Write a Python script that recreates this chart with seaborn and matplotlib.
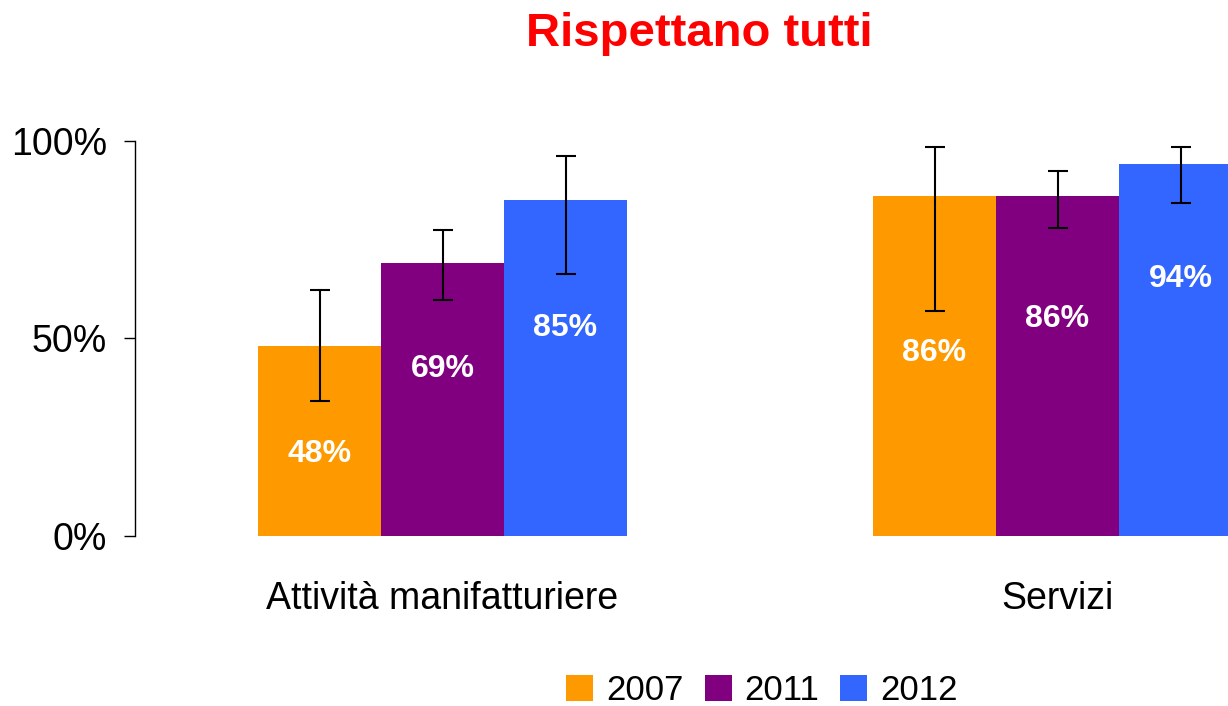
import matplotlib
matplotlib.use("Agg")
import matplotlib.pyplot as plt
import seaborn as sns
import pandas as pd

# Data
settori = ["Attività manifatturiere", "Servizi"]
anni = ["2007", "2011", "2012"]
v2007 = [48, 86]
v2011 = [69, 86]
v2012 = [85, 94]
low2007 = [34.3, 56.9]
high2007 = [62.3, 98.3]
low2011 = [59.8, 77.9]
high2011 = [77.4, 92.4]
low2012 = [66.3, 84.3]
high2012 = [96.1, 98.3]
y_ticks = [0, 50, 100]
colori = ["#FF9900", "#800080", "#3366FF"]
titolo = "Rispettano tutti"

valori = {"2007": v2007, "2011": v2011, "2012": v2012}
bassi = {"2007": low2007, "2011": low2011, "2012": low2012}
alti = {"2007": high2007, "2011": high2011, "2012": high2012}

# height (in %) where each value label sits inside its bar
label_y = {"2007": [20.8, 46.4], "2011": [42.2, 55.0], "2012": [52.6, 65.1]}

df = pd.DataFrame(
    [{"settore": s, "anno": a, "valore": valori[a][i]}
     for a in anni for i, s in enumerate(settori)]
)

sns.set_style("white")
plt.rcParams["font.family"] = ["Liberation Sans", "DejaVu Sans"]
plt.rcParams["text.color"] = "black"

fig = plt.figure(figsize=(12.28, 7.06), dpi=100)
ax = fig.add_axes([135 / 1228, 0.2404, 1230 / 1228, 0.5603])

sns.barplot(
    data=df, x="settore", y="valore", hue="anno", order=settori, hue_order=anni,
    palette=colori, width=0.6, saturation=1, linewidth=0, ax=ax,
)

for anno, cont in zip(anni, ax.containers):
    xs = [p.get_x() + p.get_width() / 2 for p in cont.patches]
    ys = valori[anno]
    err = [[y - lo for y, lo in zip(ys, bassi[anno])],
           [hi - y for y, hi in zip(ys, alti[anno])]]
    ax.errorbar(xs, ys, yerr=err, fmt="none", ecolor="black",
                elinewidth=1.5, capsize=7.5, capthick=1.5, zorder=5)
    for x, v, ly in zip(xs, ys, label_y[anno]):
        ax.text(x, ly, f"{v}%", ha="center", va="center", color="white",
                fontsize=23, fontweight="bold", zorder=6)

ax.set_xlim(-0.5, 1.5)
ax.set_ylim(0, 100)
ax.set_yticks(y_ticks)
ax.set_yticklabels([f"{t}%" for t in y_ticks])
ax.set_xlabel("")
ax.set_ylabel("")
for side in ["top", "right", "bottom"]:
    ax.spines[side].set_visible(False)
ax.spines["left"].set_color("black")
ax.spines["left"].set_linewidth(1)
ax.tick_params(axis="y", which="major", direction="out", length=8, width=1,
               color="black", pad=12, labelsize=27, labelcolor="black", left=True)
ax.tick_params(axis="x", length=0, pad=32, labelsize=27, labelcolor="black")

handles, labels = ax.get_legend_handles_labels()
ax.legend_.remove()
leg = fig.legend(handles, labels, loc="center", bbox_to_anchor=(762 / 1228, 15 / 706),
                 ncol=3, frameon=False, fontsize=25, handlelength=0.78, handleheight=0.78,
                 handletextpad=0.37, columnspacing=0.6, borderaxespad=0)
for t in leg.get_texts():
    t.set_color("black")

fig.text(699 / 1228, 1 - 34 / 706, titolo, ha="center", va="center",
         color="#FF0000", fontsize=34, fontweight="bold")

fig.savefig("out.png", dpi=100)
